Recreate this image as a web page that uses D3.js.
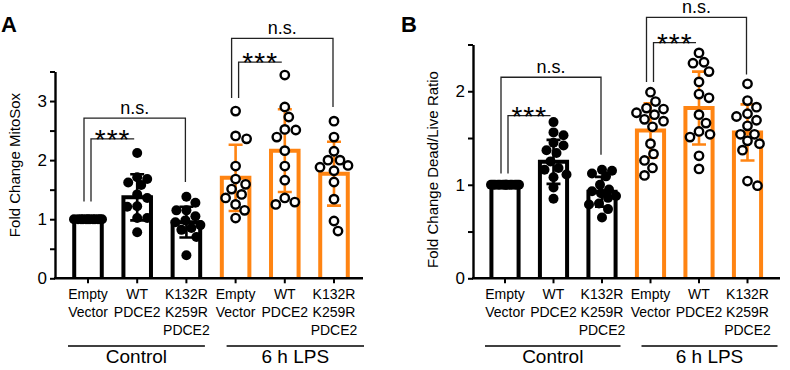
<!DOCTYPE html>
<html>
<head>
<meta charset="utf-8">
<script src="https://cdn.jsdelivr.net/npm/d3@7"></script>
<style>
body{margin:0;background:#fff}
svg{display:block}
text{font-family:"Liberation Sans",Arial,sans-serif;fill:#000}
</style>
</head>
<body>
<div id="container"></div>
<script>
let w = 790;
let h = 370;
let orange = "#ff8412";

// x categories, shared by both panels
let catLabels = [["Empty","Vector"],["WT","PDCE2"],["K132R","K259R","PDCE2"],
                 ["Empty","Vector"],["WT","PDCE2"],["K132R","K259R","PDCE2"]];
let groupLabels = ["Control","6 h LPS"];
let isLPS = [false,false,false,true,true,true];

// panel A : MitoSox
let mitoMean = [1.0, 1.37, 0.95, 1.70, 2.16, 1.77];
let mitoSD   = [0, 0.39, 0.26, 0.56, 0.70, 0.54];
let mitoPts = [
  [1,1,1,1,1,1,1,1,1,1,1,1],
  [2.12,1.71,1.68,1.62,1.58,1.42,1.36,1.22,1.21,1.02,1.02,0.78],
  [1.38,1.28,1.15,1.15,1.05,0.98,0.95,0.90,0.85,0.82,0.70,0.39],
  [2.83,2.41,2.36,1.90,1.68,1.59,1.51,1.42,1.36,1.25,1.15,1.02],
  [3.44,2.90,2.73,2.52,2.51,2.39,2.16,1.90,1.66,1.36,1.29,1.25],
  [2.66,2.39,2.15,2.00,2.00,1.91,1.88,1.82,1.63,1.34,0.97,0.80]
];
let mitoTicks = [0,0.5,1,1.5,2,2.5,3,3.5];
// [from, to, line level, left leg end, right leg end, label]
let mitoSig = [
  [0,2,2.71,1.30,1.63,"n.s."],
  [0,1,2.36,1.30,null,"***"],
  [3,5,4.06,3.05,2.90,"n.s."],
  [3,4,3.66,3.05,null,"***"]
];

// panel B : dead/live ratio
let deadMean = [1.0, 1.245, 0.925, 1.58, 1.82, 1.56];
let deadSD   = [0, 0.235, 0.16, 0.29, 0.39, 0.30];
let deadPts = [
  [1,1,1,1,1,1,1,1,1,1,1,1,1,1],
  [1.67,1.56,1.53,1.45,1.42,1.37,1.34,1.25,1.18,1.16,1.11,1.08,0.97,0.85],
  [1.16,1.15,1.12,1.09,1.00,0.95,0.93,0.91,0.88,0.86,0.80,0.79,0.74,0.65],
  [1.99,1.89,1.82,1.81,1.77,1.75,1.70,1.68,1.62,1.44,1.33,1.26,1.18,1.10],
  [2.41,2.31,2.30,2.21,2.10,1.97,1.93,1.75,1.66,1.57,1.54,1.51,1.31,1.17],
  [2.08,1.90,1.83,1.76,1.73,1.69,1.63,1.54,1.54,1.47,1.44,1.37,1.04,0.99]
];
let deadTicks = [0,0.5,1,1.5,2,2.5];
let deadSig = [
  [0,2,2.15,1.12,1.32,"n.s."],
  [0,1,1.74,1.12,null,"***"],
  [3,5,2.79,2.10,2.18,"n.s."],
  [3,4,2.52,2.10,null,"***"]
];

let viz = d3.select("#container").append("svg")
  .attr("width", w)
  .attr("height", h);

// simple swarm so dots stay inside the bar
function swarm(vals, yScale, r, maxOff){
  let placed = [];
  let cands = [0];
  for (let k=1;k<=maxOff;k++){ cands.push(k, -k); }
  return vals.map(function(v){
    let y = yScale(v);
    let best = 0, bestD = -1;
    for (let c of cands){
      let dmin = Infinity;
      for (let p of placed){
        let d = Math.hypot(p[0]-c, p[1]-y);
        if (d < dmin) dmin = d;
      }
      if (dmin >= 2*r){ best = c; bestD = dmin; break; }
      if (dmin > bestD){ bestD = dmin; best = c; }
    }
    placed.push([best, y]);
    return {v: v, dx: best, y: y};
  });
}

function drawPanel(cfg){
  let g = viz.append("g");
  let y = d3.scaleLinear().domain([0, cfg.yMax]).range([cfg.y0, cfg.yTop]);
  let x = d3.scaleBand().domain(d3.range(6)).range(cfg.xRange)
    .paddingInner(0.44).paddingOuter(0.22);
  let bw = x.bandwidth();
  let cx = function(i){ return x(i) + bw/2; };
  let col = function(i){ return isLPS[i] ? orange : "#000"; };

  // bars (open at the bottom)
  g.selectAll(".bar").data(cfg.mean).enter().append("path")
    .attr("class","bar")
    .attr("d", function(d,i){
      return "M"+x(i)+","+cfg.y0+"V"+y(d)+"H"+(x(i)+bw)+"V"+cfg.y0;
    })
    .attr("fill","#fff")
    .attr("stroke", function(d,i){ return col(i); })
    .attr("stroke-width",4);

  // error bars
  let eb = g.selectAll(".eb").data(cfg.mean).enter().append("g")
    .attr("stroke", function(d,i){ return col(i); })
    .attr("stroke-width",2.6)
    .attr("fill","none");
  eb.append("path").attr("d", function(d,i){
    let sd = cfg.sd[i];
    if (!sd) return "";
    let a = y(d+sd), b = y(d-sd), c = cx(i);
    return "M"+c+","+a+"V"+b+"M"+(c-7)+","+a+"H"+(c+7)+"M"+(c-7)+","+b+"H"+(c+7);
  });

  // axes
  let yAxis = d3.axisLeft(y).tickValues(cfg.ticks).tickSize(5).tickSizeOuter(0)
    .tickFormat(function(d){ return Number.isInteger(d) ? d : ""; });
  let ya = g.append("g").attr("transform","translate("+cfg.axisX+",0)").call(yAxis);
  ya.select(".domain").attr("stroke-width",2.4);
  ya.selectAll(".tick line").attr("stroke-width",2);
  ya.selectAll(".tick text").attr("font-size",17).attr("x",-8)
    .style("font-family",'"Liberation Sans",Arial,sans-serif');

  let xAxis = d3.axisBottom(x).tickSize(5).tickSizeOuter(0).tickFormat("");
  let xa = g.append("g").attr("transform","translate("+bw/2*0+",0)")
    .attr("transform","translate(0,"+cfg.y0+")").call(xAxis);
  xa.select(".domain").remove();
  xa.selectAll(".tick line").attr("stroke-width",2);
  g.append("line")
    .attr("x1",cfg.axisX-1).attr("x2",cfg.xEnd)
    .attr("y1",cfg.y0).attr("y2",cfg.y0)
    .attr("stroke","#000").attr("stroke-width",2.4);

  // category labels
  catLabels.forEach(function(lines,i){
    let t = g.append("text").attr("text-anchor","middle").attr("font-size",14);
    lines.forEach(function(s,j){
      t.append("tspan").attr("x",cx(i)).attr("y",cfg.y0+21+j*17.8).text(s);
    });
  });

  // group underlines
  let spans = [[cx(0)-20, cx(2)+18.5],[cx(3)-9, cx(5)+30]];
  spans.forEach(function(s,k){
    g.append("line").attr("x1",s[0]).attr("x2",s[1])
      .attr("y1",346).attr("y2",346)
      .attr("stroke","#000").attr("stroke-width",1.5);
    g.append("text").attr("x",(s[0]+s[1])/2).attr("y",363)
      .attr("text-anchor","middle").attr("font-size",19).text(groupLabels[k]);
  });

  // significance brackets
  cfg.sig.forEach(function(s){
    let star = s[5] === "***";
    let xl = cx(s[0]) + (star ? 3 : -4);
    let xr = cx(s[1]) + (star ? -3 : -1);
    let yl = y(s[2]);
    let d = "M"+xl+","+y(s[3])+"V"+yl+"H"+xr;
    if (s[4] !== null) d += "V"+y(s[4]);
    g.append("path").attr("d",d).attr("fill","none")
      .attr("stroke","#222").attr("stroke-width",1.3);
    let t = g.append("text").attr("x",(xl+xr)/2).attr("text-anchor","middle");
    if (star){
      t.attr("y",yl+10).attr("font-size",28).attr("letter-spacing",1).text(s[5]);
    } else {
      t.attr("y",yl-4).attr("font-size",18).text(s[5]);
    }
  });

  // dots
  cfg.pts.forEach(function(vals,i){
    let open = isLPS[i];
    let r = open ? 4.2 : 5;
    let sw = swarm(vals, y, open ? 5.3 : 5, 14);
    g.selectAll(".dot"+i).data(sw).enter().append("circle")
      .attr("cx", function(d){ return cx(i)+d.dx; })
      .attr("cy", function(d){ return d.y; })
      .attr("r", r)
      .attr("fill", open ? "#fff" : "#000")
      .attr("stroke", "#000")
      .attr("stroke-width", open ? 2.4 : 0);
  });

  // axis title and panel letter
  g.append("text").attr("transform","translate("+cfg.titleX+","+cfg.titleY+") rotate(-90)")
    .attr("text-anchor","middle").attr("dominant-baseline","central")
    .attr("font-size",15).text(cfg.title);
  g.append("text").attr("x",cfg.letterX).attr("y",32)
    .attr("font-size",22).attr("font-weight","bold").text(cfg.letter);
}

drawPanel({
  mean: mitoMean, sd: mitoSD, pts: mitoPts, ticks: mitoTicks, sig: mitoSig,
  yMax: 3.5, y0: 278.3, yTop: 71.5,
  xRange: [63.4, 358.6], axisX: 55, xEnd: 363,
  title: "Fold Change MitoSox", titleX: 14, titleY: 165,
  letter: "A", letterX: 1
});

drawPanel({
  mean: deadMean, sd: deadSD, pts: deadPts, ticks: deadTicks, sig: deadSig,
  yMax: 2.5, y0: 278.3, yTop: 44.5,
  xRange: [480.75, 771.75], axisX: 473, xEnd: 780,
  title: "Fold Change Dead/Live Ratio", titleX: 432, titleY: 169.5,
  letter: "B", letterX: 401
});
</script>
</body>
</html>
